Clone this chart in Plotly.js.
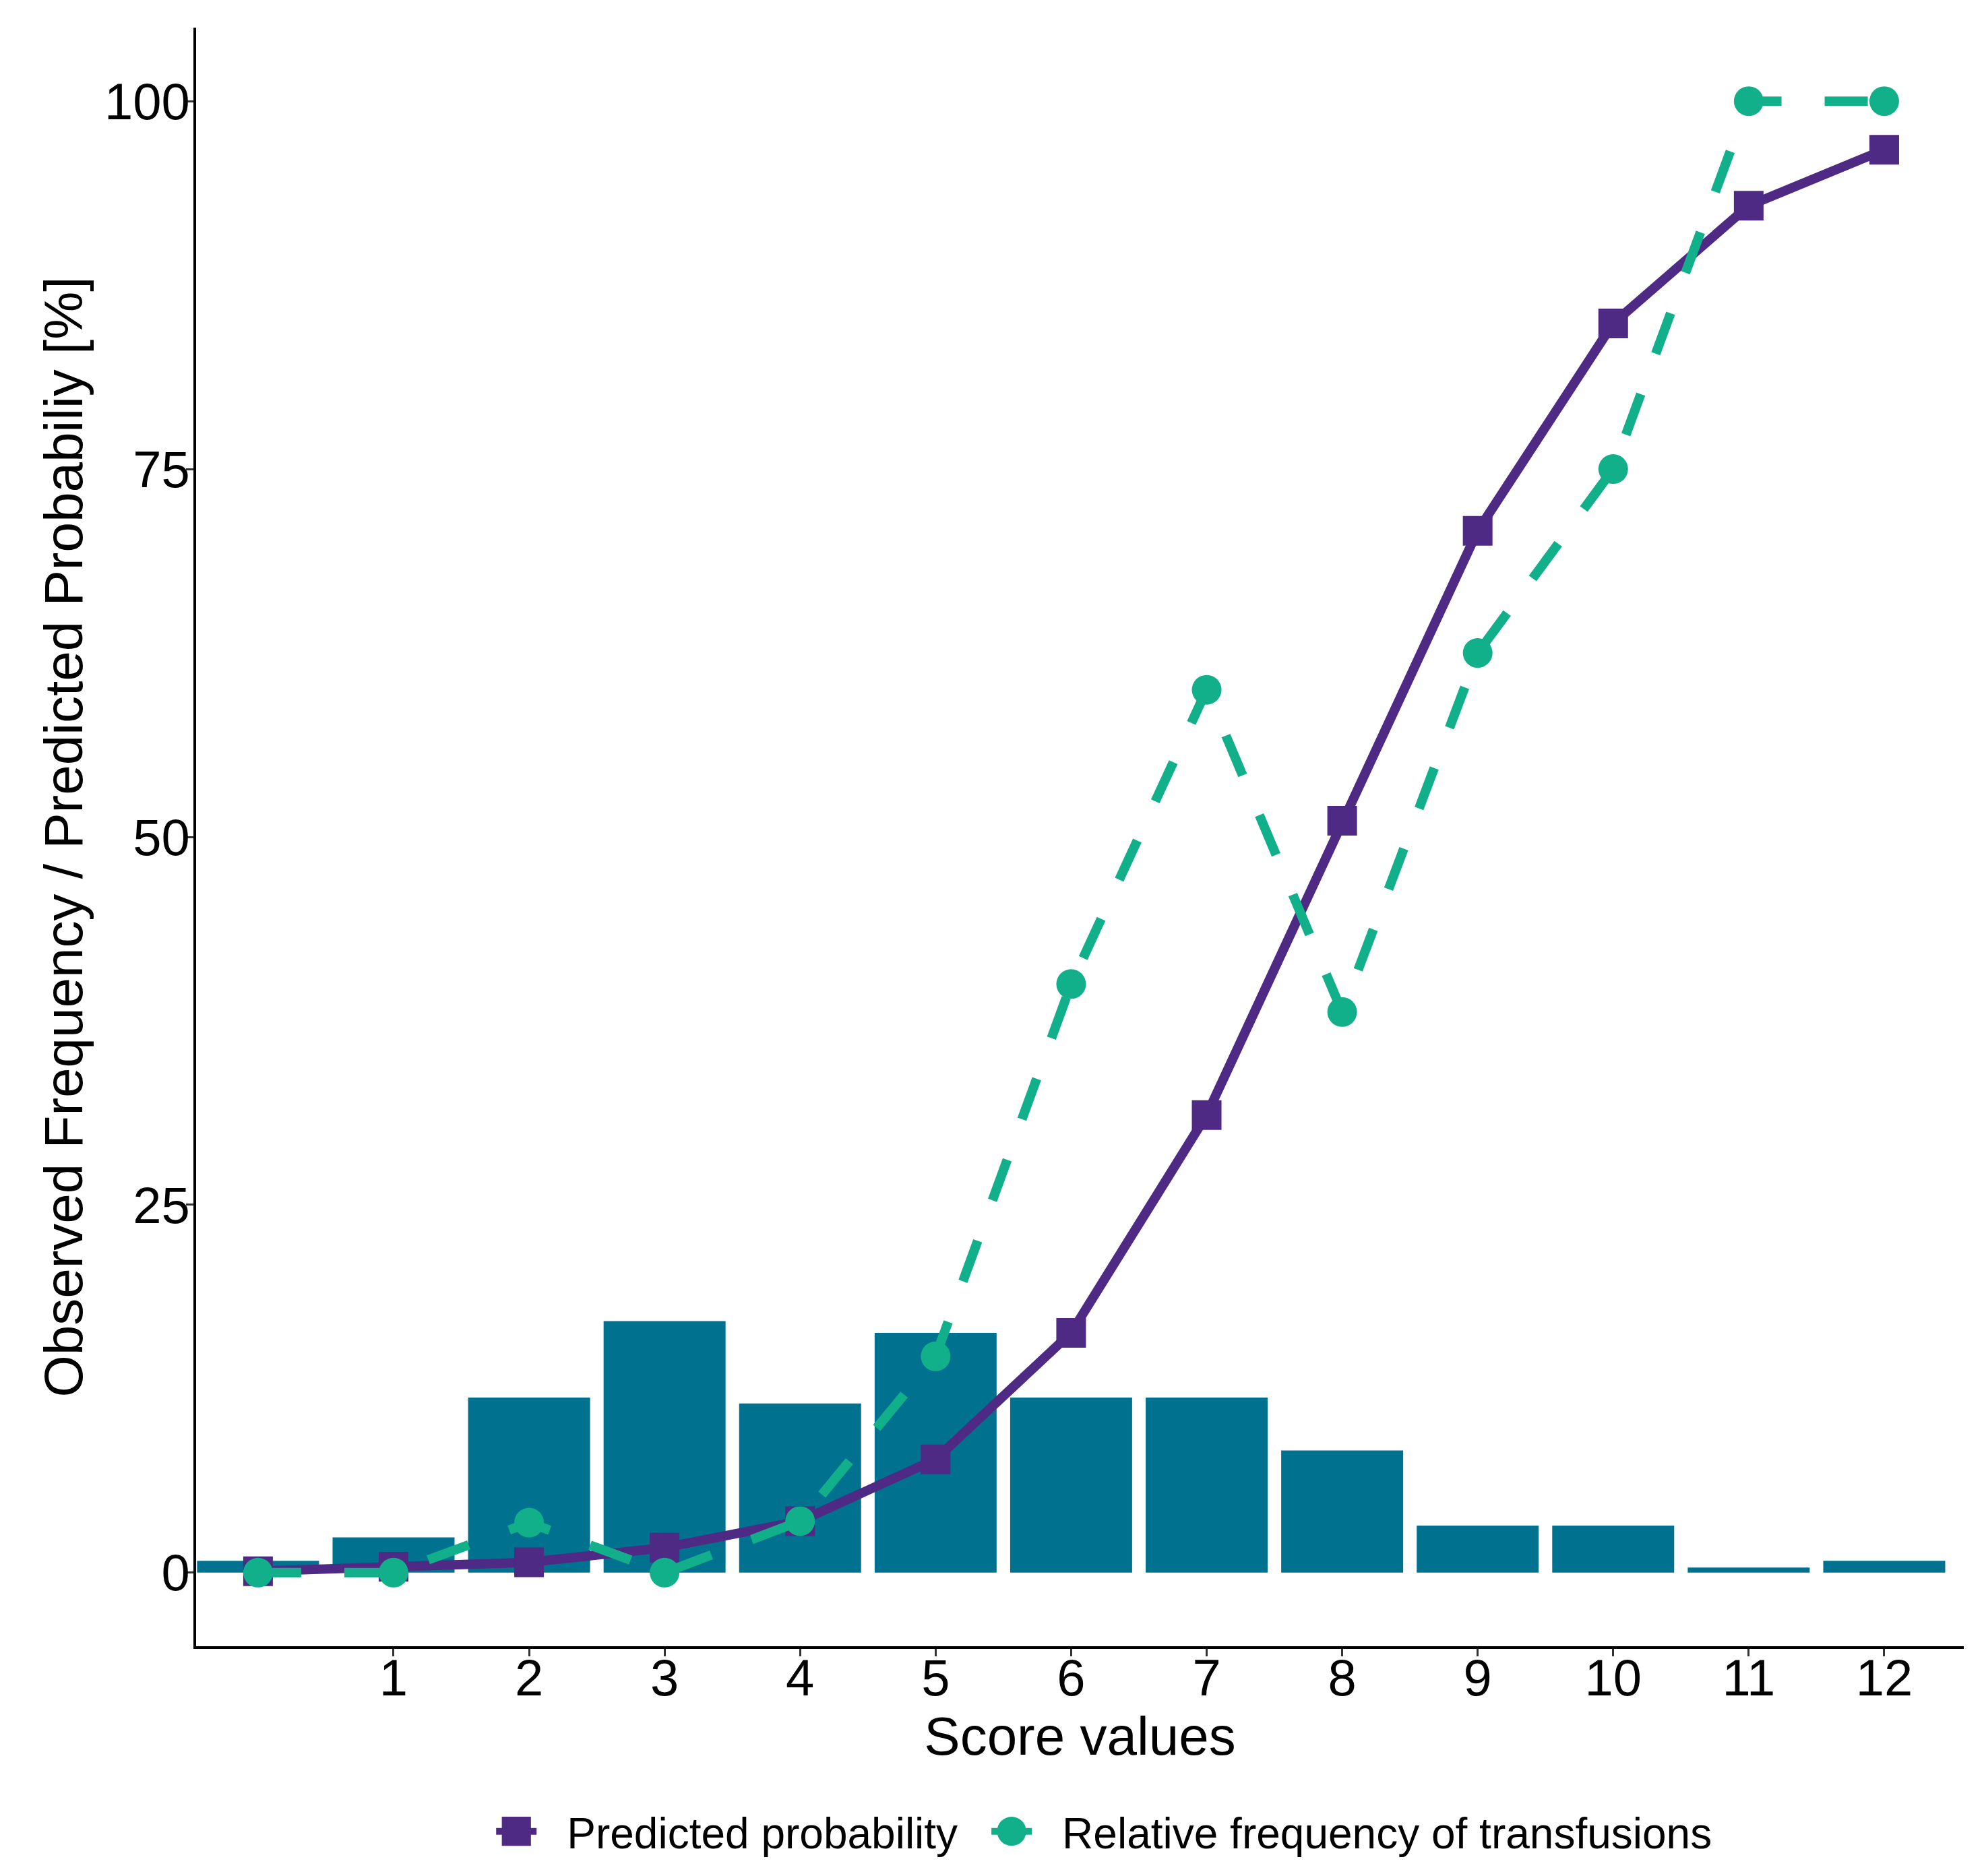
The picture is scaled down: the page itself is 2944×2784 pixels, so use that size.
<!DOCTYPE html>
<html>
<head>
<meta charset="utf-8">
<script src="https://cdn.plot.ly/plotly-3.0.1.min.js"></script>
<style>
  html, body { margin: 0; padding: 0; background: #ffffff; }
  #chart { width: 2944px; height: 2784px; }
</style>
</head>
<body>
<div id="chart"></div>
<script>
// score values 0..12
var scores = [0, 1, 2, 3, 4, 5, 6, 7, 8, 9, 10, 11, 12];
var xTicks = [1, 2, 3, 4, 5, 6, 7, 8, 9, 10, 11, 12];
var yTicks = [0, 25, 50, 75, 100];

// share of patients per score [%]
var patientShare = [0.8, 2.4, 11.9, 17.1, 11.5, 16.3, 11.9, 11.9, 8.3, 3.2, 3.2, 0.35, 0.8];

// model output [%]
var predicted = [0.1, 0.4, 0.7, 1.7, 3.5, 7.7, 16.3, 31.1, 51.1, 70.8, 84.9, 92.9, 96.7];

// observed transfusion rate [%]
var observed = [0, 0, 3.4, 0, 3.5, 14.7, 40.0, 60.0, 38.1, 62.5, 75.0, 100, 100];

var fontFam = '"Liberation Sans", Arial, sans-serif';
var keyWidth = 140;

var bars = {
  x: scores,
  y: patientShare,
  type: 'bar',
  width: 0.9,
  marker: { color: '#00718E' },
  showlegend: false,
  hoverinfo: 'skip'
};

var predTrace = {
  x: scores,
  y: predicted,
  name: 'Predicted probability',
  type: 'scatter',
  mode: 'lines+markers',
  line: { color: '#4E2A84', width: 14 },
  marker: { symbol: 'square', size: 44, color: '#4E2A84' }
};

var obsTrace = {
  x: scores,
  y: observed,
  name: 'Relative frequency of transfusions',
  type: 'scatter',
  mode: 'lines+markers',
  line: { color: '#12B08A', width: 14, dash: '64px,64px' },
  marker: { symbol: 'circle', size: 44, color: '#12B08A' }
};

var layout = {
  width: 2944,
  height: 2784,
  margin: { l: 291, r: 30, t: 41, b: 341 },
  paper_bgcolor: '#ffffff',
  plot_bgcolor: '#ffffff',
  font: { family: fontFam, color: '#000000' },
  xaxis: {
    range: [-0.457, 12.587],
    tickvals: xTicks,
    ticktext: xTicks.map(String),
    ticks: 'outside',
    ticklen: 11,
    tickwidth: 3,
    tickcolor: '#333333',
    ticklabelstandoff: -33,
    tickfont: { size: 76, color: '#000000' },
    showgrid: false,
    zeroline: false,
    showline: true,
    linecolor: '#000000',
    linewidth: 4,
    title: { text: 'Score values', font: { size: 80, color: '#000000' }, standoff: 8 }
  },
  yaxis: {
    range: [-5, 105],
    tickvals: yTicks,
    ticks: 'outside',
    ticklen: 11,
    tickwidth: 3,
    tickcolor: '#333333',
    ticklabelstandoff: -21,
    tickfont: { size: 76, color: '#000000' },
    showgrid: false,
    zeroline: false,
    showline: true,
    linecolor: '#000000',
    linewidth: 4,
    title: { text: 'Observed Frequency / Predicted Probabiliy [%]', font: { size: 80, color: '#000000' }, standoff: 7 }
  },
  legend: {
    orientation: 'h',
    x: 0.506,
    xanchor: 'center',
    y: -0.1145,
    yanchor: 'middle',
    itemwidth: keyWidth,
    font: { size: 64, color: '#000000' },
    bgcolor: 'rgba(0,0,0,0)'
  }
};

Plotly.newPlot('chart', [bars, predTrace, obsTrace], layout, { displayModeBar: false, staticPlot: true }).then(function (gd) {
  // plotly caps legend marker size: enlarge the keys and keep the line stubs short
  var centre = (keyWidth + 10) / 2;
  gd.querySelectorAll('.legend .legendpoints path.scatterpts').forEach(function (p) {
    p.setAttribute('transform', 'translate(' + centre + ',0) scale(2.7)');
  });
  gd.querySelectorAll('.legend .legendlines path').forEach(function (p) {
    p.setAttribute('d', 'M' + (centre - 30) + ',0h60');
  });
});
</script>
</body>
</html>
